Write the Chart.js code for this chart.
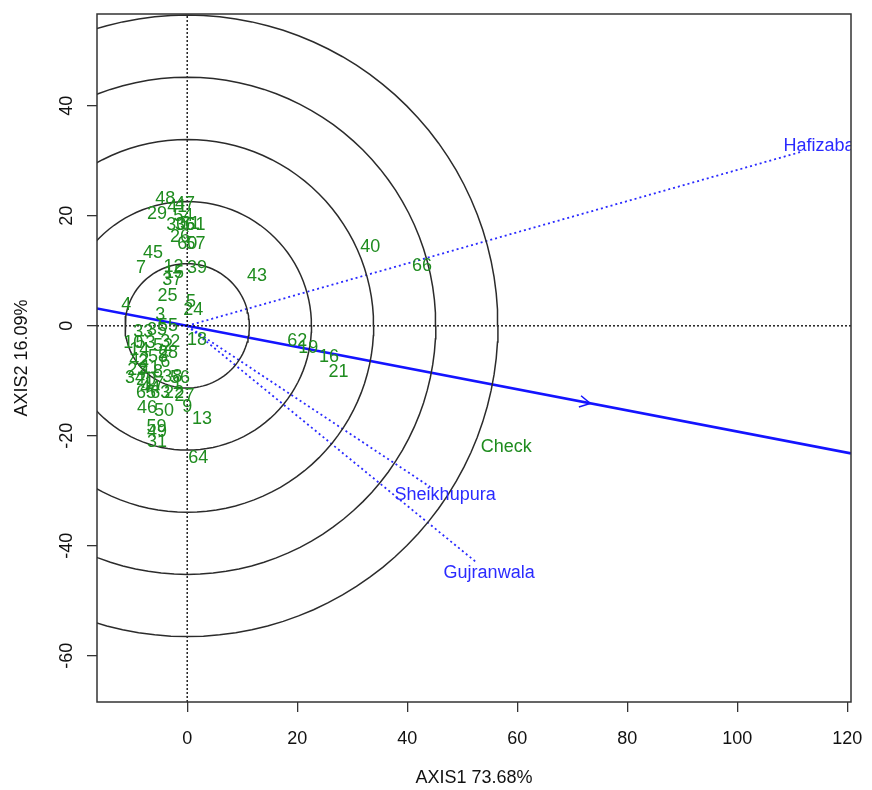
<!DOCTYPE html>
<html>
<head>
<meta charset="utf-8">
<script src="https://cdn.jsdelivr.net/npm/chart.js@4.4.1/dist/chart.umd.min.js"></script>
<style>
  html, body { margin: 0; padding: 0; background: #fff; }
  canvas { display: block; }
</style>
</head>
<body>
<canvas id="biplot" width="872" height="790"></canvas>
<script>
// --- genotype scores (AXIS1, AXIS2) ---
const genotypes = ['48','41','47','29','54','30','36','61','26','51','60','57','45','7','12','15','37','39','43',
  '25','5','24','4','3','55','33','35','10','53','32','18','52','14','28','58','42','2','6','11','23','8',
  '34','20','38','56','17','1','44','65','63','22','27','46','50','9','13','59','49','31','64',
  '40','66','62','19','16','21','Check'];
const genoX = [-4.0,-1.8,-0.4,-5.5,-0.7,-2.0,-0.4,1.5,-1.3,0.5,0.0,1.5,-6.2,-8.4,-2.5,-2.4,-2.7,1.8,12.7,
  -3.6,0.7,1.1,-11.1,-4.9,-3.5,-8.0,-5.5,-9.8,-7.6,-3.1,1.8,-4.4,-8.7,-3.5,-5.3,-8.7,-8.0,-4.0,-6.7,-9.1,-5.3,
  -9.5,-7.5,-2.7,-1.3,-6.0,-1.8,-6.7,-7.5,-4.9,-2.4,-0.5,-7.3,-4.2,0.0,2.7,-5.6,-5.5,-5.5,2.0,
  33.3,42.7,20.0,22.0,25.8,27.5,58.0];
const genoY = [23.1,21.6,22.2,20.4,20.0,18.4,18.4,18.4,16.2,18.6,14.9,14.9,13.3,10.5,10.7,9.6,8.4,10.5,9.1,
  5.5,4.4,2.9,3.8,2.0,0.0,-1.1,-0.7,-3.1,-3.1,-2.9,-2.5,-3.6,-4.4,-4.9,-5.6,-6.2,-6.5,-6.5,-7.6,-8.0,-8.4,
  -9.5,-9.8,-9.3,-9.5,-10.5,-10.5,-11.3,-12.2,-12.2,-12.2,-12.7,-14.9,-15.5,-14.7,-16.9,-18.4,-19.3,-21.1,-24.0,
  14.4,10.9,-2.7,-4.0,-5.6,-8.4,-22.0];

// --- environment vectors ---
const envNames = ['Hafizabad', 'Sheikhupura', 'Gujranwala'];
const envX = [111.5, 44.2, 52.7];
const envY = [31.6, -29.3, -43.1];
const envLabelX = [115.8, 46.9, 54.9];
const envLabelY = [32.7, -30.7, -44.9];

// --- average environment axis and its arrow ---
const aecX = [-16.4, 120.7];
const aecY = [3.15, -23.2];
const arrowTip = [73.3, -14.1];

// --- concentric circles, axis ranges and ticks ---
const circleRadii = [11.3, 22.6, 33.9, 45.2, 56.5];
const xRange = [-16.4, 120.7];
const yRange = [-68.4, 56.7];
const xTicks = [0, 20, 40, 60, 80, 100, 120];
const yTicks = [-60, -40, -20, 0, 20, 40];

const GREEN = '#1f8c1f';
const BLUE = '#2a2aff';
const FONT = '"Liberation Sans", Arial, sans-serif';

const datasets = [];

// circles
circleRadii.forEach(r => {
    const pts = [];
    for (let i = 0; i <= 120; i++) {
        const a = i / 120 * Math.PI * 2;
        pts.push({ x: r * Math.cos(a), y: r * Math.sin(a) });
    }
    datasets.push({ data: pts, showLine: true, borderColor: '#2b2b2b', borderWidth: 1.5, pointRadius: 0 });
});

// dotted reference lines through origin
datasets.push({ data: [{ x: xRange[0], y: 0 }, { x: xRange[1], y: 0 }], showLine: true,
    borderColor: '#000', borderWidth: 1.3, borderDash: [2, 2], pointRadius: 0 });
datasets.push({ data: [{ x: 0, y: yRange[0] }, { x: 0, y: yRange[1] }], showLine: true,
    borderColor: '#000', borderWidth: 1.3, borderDash: [2, 2], pointRadius: 0 });

// environment vectors
envNames.forEach((n, i) => {
    datasets.push({ data: [{ x: 0, y: 0 }, { x: envX[i], y: envY[i] }], showLine: true,
        borderColor: BLUE, borderWidth: 1.8, borderDash: [2, 3], pointRadius: 0 });
});

// average environment axis
datasets.push({ data: [{ x: aecX[0], y: aecY[0] }, { x: aecX[1], y: aecY[1] }], showLine: true,
    borderColor: '#1414ff', borderWidth: 2.6, pointRadius: 0 });

const labelPlugin = {
    id: 'biplotLabels',
    afterDatasetsDraw(chart) {
        const { ctx, chartArea: a, scales: { x, y } } = chart;
        ctx.save();
        ctx.beginPath();
        ctx.rect(a.left, a.top, a.right - a.left, a.bottom - a.top);
        ctx.clip();

        // arrow head on the average axis
        const tx = x.getPixelForValue(arrowTip[0]), ty = y.getPixelForValue(arrowTip[1]);
        const ang = Math.atan2(y.getPixelForValue(aecY[1]) - y.getPixelForValue(aecY[0]),
            x.getPixelForValue(aecX[1]) - x.getPixelForValue(aecX[0]));
        ctx.strokeStyle = '#1414ff';
        ctx.lineWidth = 1.5;
        ctx.beginPath();
        ctx.moveTo(tx - 12 * Math.cos(ang - 0.5), ty - 12 * Math.sin(ang - 0.5));
        ctx.lineTo(tx, ty);
        ctx.lineTo(tx - 12 * Math.cos(ang + 0.5), ty - 12 * Math.sin(ang + 0.5));
        ctx.stroke();

        ctx.textAlign = 'center';
        ctx.textBaseline = 'middle';
        ctx.font = '18px ' + FONT;
        ctx.fillStyle = GREEN;
        genotypes.forEach((g, i) => {
            ctx.fillText(g, x.getPixelForValue(genoX[i]), y.getPixelForValue(genoY[i]));
        });
        ctx.fillStyle = BLUE;
        envNames.forEach((n, i) => {
            ctx.fillText(n, x.getPixelForValue(envLabelX[i]), y.getPixelForValue(envLabelY[i]));
        });
        ctx.restore();

        // plot box
        ctx.save();
        ctx.strokeStyle = '#333';
        ctx.lineWidth = 1.5;
        ctx.strokeRect(a.left, a.top, a.right - a.left, a.bottom - a.top);
        ctx.restore();
    }
};

new Chart(document.getElementById('biplot'), {
    type: 'scatter',
    data: { datasets },
    options: {
        responsive: false,
        animation: false,
        devicePixelRatio: 1,
        layout: { padding: { top: 14, right: 21, left: 0, bottom: 0 } },
        plugins: { legend: { display: false }, tooltip: { enabled: false } },
        scales: {
            x: {
                type: 'linear', min: xRange[0], max: xRange[1],
                afterBuildTicks: s => { s.ticks = xTicks.map(v => ({ value: v })); },
                afterFit: s => { s.height = 88; s.paddingLeft = 0; s.paddingRight = 0; },
                border: { display: false },
                grid: { drawOnChartArea: false, drawTicks: true, tickLength: 10, color: '#333', lineWidth: 1.3 },
                ticks: { color: '#111', font: { family: FONT, size: 18 }, padding: 16, maxRotation: 0 },
                title: { display: true, text: 'AXIS1 73.68%', color: '#111',
                    font: { family: FONT, size: 18 }, padding: { top: 0, bottom: 1 } }
            },
            y: {
                type: 'linear', min: yRange[0], max: yRange[1],
                afterBuildTicks: s => { s.ticks = yTicks.map(v => ({ value: v })); },
                afterFit: s => { s.width = 97; s.paddingTop = 0; s.paddingBottom = 0; },
                border: { display: false },
                grid: { drawOnChartArea: false, drawTicks: true, tickLength: 10, color: '#333', lineWidth: 1.3 },
                ticks: { color: '#111', font: { family: FONT, size: 18 }, padding: 7,
                    minRotation: 90, maxRotation: 90, crossAlign: 'center' },
                title: { display: true, text: 'AXIS2 16.09%', color: '#111',
                    font: { family: FONT, size: 18 }, padding: { top: 11, bottom: 0 } }
            }
        }
    },
    plugins: [labelPlugin]
});
</script>
</body>
</html>
